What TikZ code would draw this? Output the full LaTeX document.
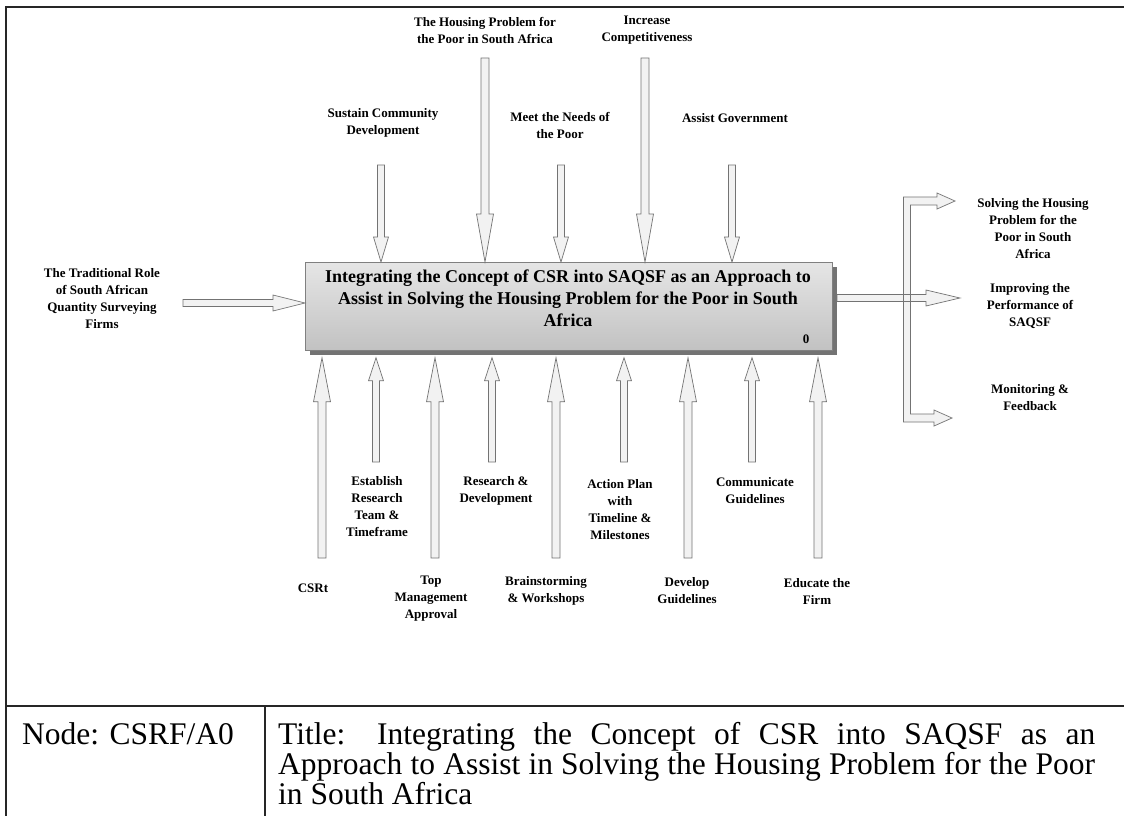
\documentclass[tikz,border=0pt]{standalone}
\usepackage{fontspec}
\setmainfont{Liberation Serif}
\usetikzlibrary{calc,shadows}

% hollow block arrow: #1 foot, #2 tip, #3 half shaft width, #4 half head width, #5 head length
\newcommand\hollowarrow[5]{%
  \path ($(#2)!#5!(#1)$) coordinate (hb);
  \draw[harrow] ($(#1)!#3!90:(#2)$) -- ($(hb)!#3!90:(#2)$) -- ($(hb)!#4!90:(#2)$) -- (#2)
    -- ($(hb)!#4!-90:(#2)$) -- ($(hb)!#3!-90:(#2)$) -- ($(#1)!#3!-90:(#2)$) -- cycle;
}

\begin{document}
\begin{tikzpicture}[x=1pt,y=-1pt,
  lbl/.style={font=\fontsize{13}{17}\selectfont\bfseries,align=center,inner sep=0pt},
  harrow/.style={draw=black!55,fill=black!5,line width=0.7pt},
  frame/.style={line width=2pt,draw=black!85},
  cell/.style={font=\fontsize{31.5}{30}\selectfont,inner sep=0pt,anchor=base west}]
\useasboundingbox (0,0) rectangle (1124,816);
\fill[white] (0,0) rectangle (1124,816);

% outer frame and the caption table
\draw[frame] (6,816) -- (6,7) -- (1124,7);
\draw[frame] (6,706) -- (1124,706);
\draw[frame] (265,706) -- (265,816);

% activity box
\node[draw=black!50,line width=0.8pt,top color=black!10,bottom color=black!24,
      minimum width=527,minimum height=88,anchor=north west,inner sep=0pt,
      drop shadow={shadow xshift=5pt,shadow yshift=-5pt,fill=black!55,opacity=1}]
      (box) at (305,262) {};
\node[font=\fontsize{18}{22}\selectfont\bfseries,align=center] (boxtext) at (568,298)
  {Integrating the Concept of CSR into SAQSF as an Approach to\\
   Assist in Solving the Housing Problem for the Poor in South\\
   Africa};
\node[font=\fontsize{13}{15}\selectfont\bfseries] (boxnum) at (806,339) {0};

% controls (top)
\node[lbl] (cA) at (383,123) {Sustain Community\\Development};
\node[lbl] (cB) at (485,31) {The Housing Problem for\\the Poor in South Africa};
\node[lbl] (cC) at (560,125) {Meet the Needs of\\the Poor};
\node[lbl] (cD) at (647,30) {Increase\\Competitiveness};
\node[lbl] (cE) at (735,118) {Assist Government};
\coordinate (fA) at (381,165);
\coordinate (fB) at (485,58);
\coordinate (fC) at (561,165);
\coordinate (fD) at (645,58);
\coordinate (fE) at (732,165);
\foreach \n in {A,B,C,D,E} \coordinate (t\n) at (box.north -| f\n);
\hollowarrow{fA}{tA}{3.5pt}{7.5pt}{25pt}
\hollowarrow{fB}{tB}{4pt}{8.5pt}{48pt}
\hollowarrow{fC}{tC}{3.5pt}{7.5pt}{25pt}
\hollowarrow{fD}{tD}{4pt}{8.5pt}{48pt}
\hollowarrow{fE}{tE}{3.5pt}{7.5pt}{25pt}

% input (left)
\node[lbl] (inLbl) at (102,299) {The Traditional Role\\of South African\\Quantity Surveying\\Firms};
\coordinate (inFoot) at (183,303);
\coordinate (inTip) at (box.west |- inFoot);
\hollowarrow{inFoot}{inTip}{3.5pt}{8pt}{32pt}

% mechanisms (bottom)
\node[lbl] (m1) at (313,588) {CSRt};
\node[lbl] (m2) at (377,507) {Establish\\Research\\Team \&\\Timeframe};
\node[lbl] (m3) at (431,599) {Top\\Management\\Approval};
\node[lbl] (m4) at (496,491) {Research \&\\Development};
\node[lbl] (m5) at (546,591) {Brainstorming\\\& Workshops};
\node[lbl] (m6) at (620,510) {Action Plan\\with\\Timeline \&\\Milestones};
\node[lbl] (m7) at (687,591) {Develop\\Guidelines};
\node[lbl] (m8) at (755,491) {Communicate\\Guidelines};
\node[lbl] (m9) at (817,591) {Educate the\\Firm};
\foreach \n/\x/\y in {1/322/558,2/376/462,3/435/558,4/492/462,5/556/558,
                      6/624/462,7/688/558,8/752/462,9/818/558}{
  \coordinate (b\n) at (\x,\y);
  \path (box.south -| b\n) ++(0,7) coordinate (bt\n);
}
\foreach \n in {1,3,5,7,9} {\hollowarrow{b\n}{bt\n}{4pt}{8.5pt}{44pt}}
\foreach \n in {2,4,6,8} {\hollowarrow{b\n}{bt\n}{3.5pt}{7.5pt}{23pt}}

% outputs (right)
\node[lbl] (o1) at (1033,229) {Solving the Housing\\Problem for the\\Poor in South\\Africa};
\node[lbl] (o2) at (1030,306) {Improving the\\Performance of\\SAQSF};
\node[lbl] (o3) at (1030,398) {Monitoring \&\\Feedback};
\coordinate (outFoot) at (837,298);
\coordinate (outM) at (960,298);
\coordinate (busTop) at (907,201);
\coordinate (busBot) at (907,418);
\coordinate (outT) at (955,201);
\coordinate (outB) at (952,418);
\hollowarrow{outFoot}{outM}{3.5pt}{8pt}{34pt}
\draw[harrow] ($(busTop)+(-3.5,-4)$) -- ($(outT)+(-18,-4)$) -- ($(outT)+(-18,-8)$) -- (outT)
  -- ($(outT)+(-18,8)$) -- ($(outT)+(-18,4)$) -- ($(busTop)+(3.5,4)$)
  -- ($(busBot)+(3.5,-4)$) -- ($(outB)+(-18,-4)$) -- ($(outB)+(-18,-8)$) -- (outB)
  -- ($(outB)+(-18,8)$) -- ($(outB)+(-18,4)$) -- ($(busBot)+(-3.5,4)$) -- cycle;
\draw[black!55,line width=0.7pt] ($(outFoot)+(60,-3.5)$) -- ($(outM)+(-34,-3.5)$)
  ($(outFoot)+(60,3.5)$) -- ($(outM)+(-34,3.5)$);

% caption cells
\node[cell] (nodeid) at (22,744) {Node: CSRF/A0};
\node[cell] (title1) at (278,744) {\makebox[817pt][s]{Title: Integrating the Concept of CSR into SAQSF as an}};
\node[cell] (title2) at (278,774) {\makebox[817pt][s]{Approach to Assist in Solving the Housing Problem for the Poor}};
\node[cell] (title3) at (278,804) {in South Africa};
\end{tikzpicture}
\end{document}
